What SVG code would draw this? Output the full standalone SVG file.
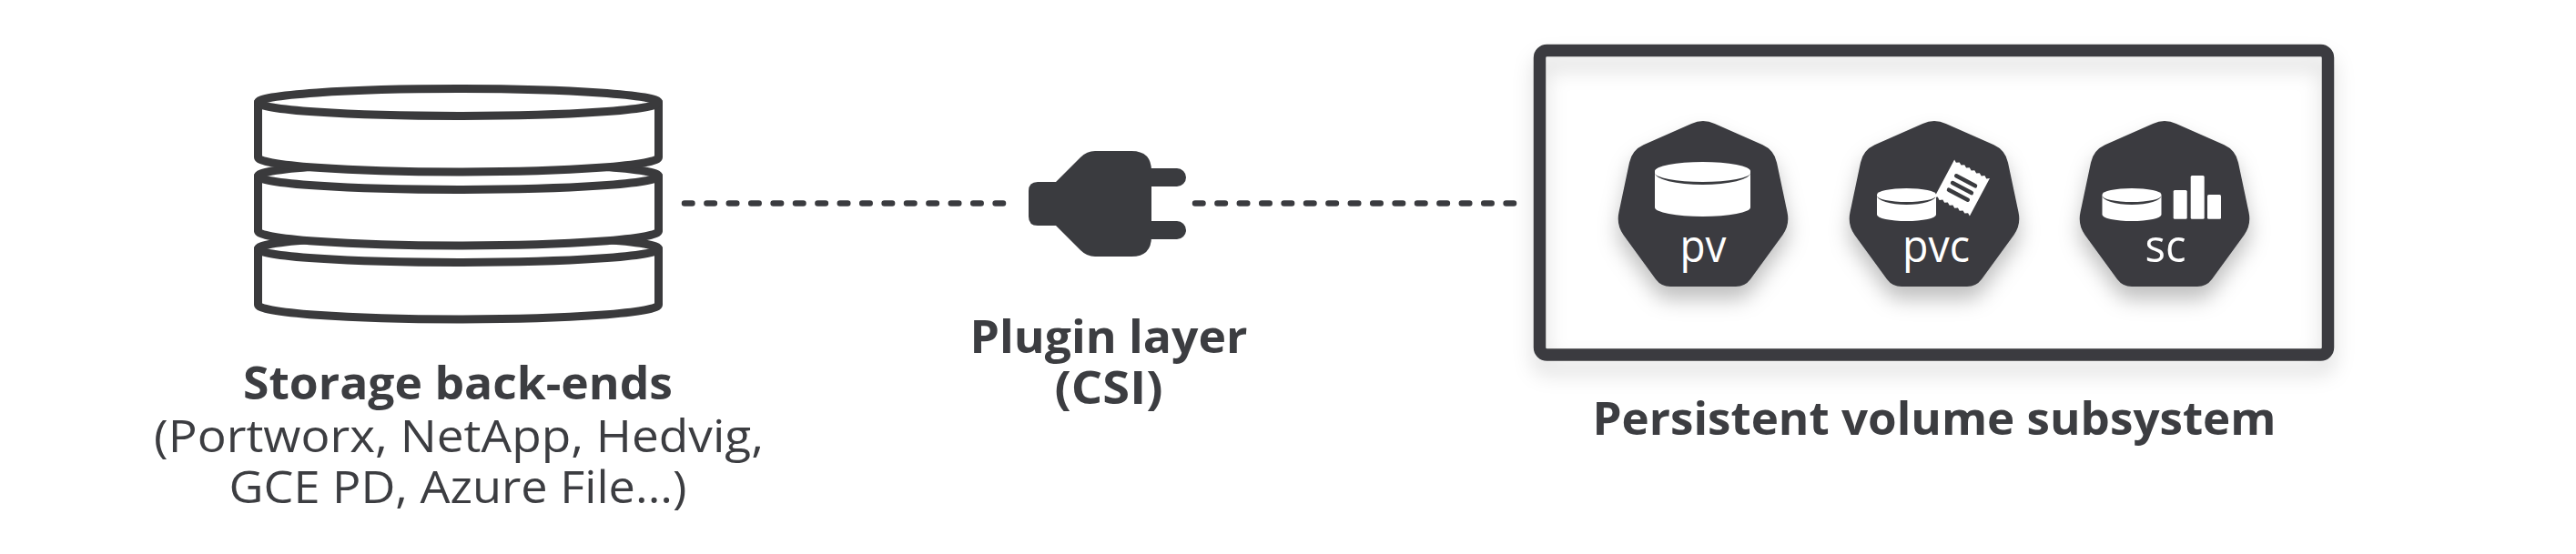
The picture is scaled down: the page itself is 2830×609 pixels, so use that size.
<svg xmlns="http://www.w3.org/2000/svg" width="2830" height="609" viewBox="0 0 2830 609">
<style>
.dark{fill:#3a3b3f}
.white{fill:#fff}
.cyl{fill:#fff;stroke:#3a3a3c;stroke-width:9;stroke-linejoin:round}
.dash{fill:none;stroke:#3a3b3f;stroke-width:6.5;stroke-linecap:round;stroke-dasharray:8.5 15.9}
.t{font-family:"Open Sans","Noto Sans","Liberation Sans",sans-serif;fill:#3c3d41;text-anchor:middle;font-size:50px}
.b{font-weight:700}
.h{fill:#fff;font-size:49px;text-anchor:middle;font-family:"Open Sans","Noto Sans","Liberation Sans",sans-serif}
</style>
<defs>
<filter id="sh" x="-30%" y="-30%" width="160%" height="170%"><feDropShadow dx="0" dy="14" stdDeviation="11" flood-color="#000" flood-opacity="0.25"/></filter>
<filter id="shb" x="-5%" y="-10%" width="110%" height="125%"><feDropShadow dx="0" dy="14" stdDeviation="11" flood-color="#000" flood-opacity="0.14"/></filter>
<path id="hep" d="M-12.8,136 Q0,130 12.8,136 L65.5,159.3 Q78,165 81,178.7 L92.5,233.3 Q95.5,247 87.5,258.2 L52,307 Q46,315 36,315 L-36,315 Q-46,315 -52,307 L-87.5,258.2 Q-95.5,247 -92.5,233.3 L-81,178.7 Q-78,165 -65.5,159.3 Z"/>
<g id="disk"><path class="white" d="M-32.5,214 A32.5,7 0 0 1 32.5,214 V236 A32.5,7 0 0 1 -32.5,236 Z"/><path class="dark" d="M-32.5,215 A32.5,7 0 0 0 32.5,215 A32.5,10 0 0 1 -32.5,215 Z"/></g>
</defs>
<g id="storage">
<g id="cyl3"><path class="cyl" d="M283.5,273.5 V335 A220,16 0 0 0 723.5,335 V273.5 Z"/><ellipse class="cyl" cx="503.5" cy="273.5" rx="220" ry="15"/></g>
<g id="cyl2"><path class="cyl" d="M283.5,193.5 V254 A220,16 0 0 0 723.5,254 V193.5 Z"/><ellipse class="cyl" cx="503.5" cy="193.5" rx="220" ry="15"/></g>
<g id="cyl1"><path class="cyl" d="M283.5,112.5 V173 A220,16 0 0 0 723.5,173 V112.5 Z"/><ellipse class="cyl" cx="503.5" cy="112.5" rx="220" ry="15"/></g>
<text class="t b" x="503" y="439" textLength="472" lengthAdjust="spacingAndGlyphs">Storage back-ends</text>
<text class="t" x="504" y="497" textLength="670" lengthAdjust="spacingAndGlyphs">(Portworx, NetApp, Hedvig,</text>
<text class="t" x="503" y="553" textLength="503" lengthAdjust="spacingAndGlyphs">GCE PD, Azure File...)</text>
</g>
<g id="connectors">
<path class="dash" d="M752,223.5 H1102"/>
<path class="dash" d="M1313,223.5 H1663"/>
</g>
<g id="plugin">
<path class="dark" d="M1140,200 H1160 L1187,173 Q1194,166 1203,166 H1243 Q1265,166 1265,188 V260 Q1265,282 1243,282 H1203 Q1194,282 1187,275 L1160,248 H1140 Q1130,248 1130,238 V210 Q1130,200 1140,200 Z"/>
<path class="dark" d="M1260,185 H1293 A10,10 0 0 1 1293,205 H1260 Z M1260,243 H1293 A10,10 0 0 1 1293,263 H1260 Z"/>
<text class="t b" x="1218" y="388" textLength="305" lengthAdjust="spacingAndGlyphs">Plugin layer</text>
<text class="t b" x="1218" y="444" textLength="119" lengthAdjust="spacingAndGlyphs">(CSI)</text>
</g>
<g id="subsystem">
<rect x="1691.5" y="55.5" width="866" height="334.5" rx="8" fill="none" stroke="#3a3b3f" stroke-width="13.5" filter="url(#shb)"/>
<text class="t b" x="2125" y="478" textLength="751" lengthAdjust="spacingAndGlyphs">Persistent volume subsystem</text>
</g>
<g id="pv">
<use href="#hep" x="1871" class="dark" filter="url(#sh)"/>
<path class="white" d="M1818,188 A52.5,10 0 0 1 1923,188 V228 A52.5,10 0 0 1 1818,228 Z"/>
<path class="dark" d="M1818,190 A52.5,10 0 0 0 1923,190 A52.5,13 0 0 1 1818,190 Z"/>
<text class="h" x="1871" y="288" textLength="51" lengthAdjust="spacingAndGlyphs">pv</text>
</g>
<g id="pvc">
<use href="#hep" x="2125" class="dark" filter="url(#sh)"/>
<use href="#disk" x="2094.5"/>
<g transform="translate(2155.5,206.5) rotate(28)">
<path class="white" d="M-22,-23.5 L-18.9,-21.5 -15.7,-23.5 -12.6,-21.5 -9.4,-23.5 -6.3,-21.5 -3.1,-23.5 0,-21.5 3.1,-23.5 6.3,-21.5 9.4,-23.5 12.6,-21.5 15.7,-23.5 18.9,-21.5 22,-23.5 V23.5 L18.9,21.5 15.7,23.5 12.6,21.5 9.4,23.5 6.3,21.5 3.1,23.5 0,21.5 -3.1,23.5 -6.3,21.5 -9.4,23.5 -12.6,21.5 -15.7,23.5 -18.9,21.5 -22,23.5 Z"/>
<rect class="dark" x="-14" y="-11" width="28" height="4.5" rx="2.2"/>
<rect class="dark" x="-14" y="-2.2" width="28" height="4.5" rx="2.2"/>
<rect class="dark" x="-14" y="6.5" width="28" height="4.5" rx="2.2"/>
</g>
<text class="h" x="2127" y="288" textLength="74" lengthAdjust="spacingAndGlyphs">pvc</text>
</g>
<g id="sc">
<use href="#hep" x="2378" class="dark" filter="url(#sh)"/>
<use href="#disk" x="2342"/>
<rect class="white" x="2387.7" y="209" width="15" height="31.7" rx="1.5"/>
<rect class="white" x="2406.7" y="193" width="15" height="47.7" rx="1.5"/>
<rect class="white" x="2425" y="214" width="15" height="26.7" rx="1.5"/>
<text class="h" x="2379" y="288" textLength="45" lengthAdjust="spacingAndGlyphs">sc</text>
</g>
</svg>
